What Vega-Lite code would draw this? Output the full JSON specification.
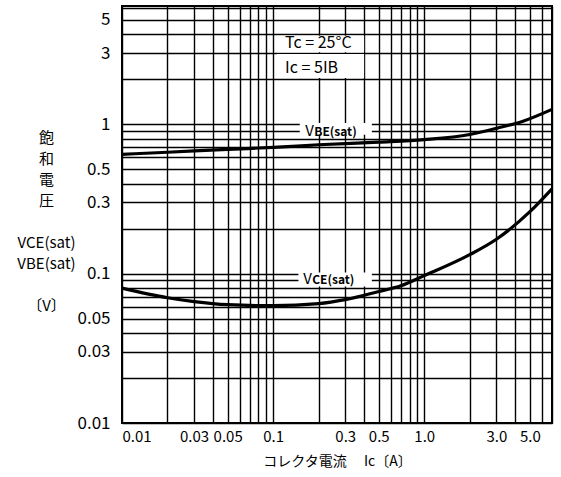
{
  "$schema": "https://vega.github.io/schema/vega-lite/v6.json",
  "width": 430,
  "height": 417,
  "autosize": {"type": "none"},
  "padding": {"left": 122, "top": 6, "right": 9, "bottom": 54},
  "background": "white",
  "config": {
    "view": {"stroke": "black", "strokeWidth": 2},
    "font": "Noto Sans CJK JP"
  },
  "datasets": {
    "curves": [
      {"series": "VBE", "x": 0.01, "y": 0.63},
      {"series": "VBE", "x": 0.02, "y": 0.65},
      {"series": "VBE", "x": 0.05, "y": 0.68},
      {"series": "VBE", "x": 0.1, "y": 0.70},
      {"series": "VBE", "x": 0.2, "y": 0.73},
      {"series": "VBE", "x": 0.5, "y": 0.76},
      {"series": "VBE", "x": 1.0, "y": 0.79},
      {"series": "VBE", "x": 2.0, "y": 0.855},
      {"series": "VBE", "x": 3.0, "y": 0.94},
      {"series": "VBE", "x": 4.5, "y": 1.05},
      {"series": "VBE", "x": 7.0, "y": 1.26},
      {"series": "VCE", "x": 0.01, "y": 0.080},
      {"series": "VCE", "x": 0.02, "y": 0.069},
      {"series": "VCE", "x": 0.03, "y": 0.065},
      {"series": "VCE", "x": 0.05, "y": 0.062},
      {"series": "VCE", "x": 0.1, "y": 0.061},
      {"series": "VCE", "x": 0.2, "y": 0.063},
      {"series": "VCE", "x": 0.3, "y": 0.067},
      {"series": "VCE", "x": 0.5, "y": 0.076},
      {"series": "VCE", "x": 0.7, "y": 0.083},
      {"series": "VCE", "x": 1.0, "y": 0.097},
      {"series": "VCE", "x": 2.0, "y": 0.134},
      {"series": "VCE", "x": 3.0, "y": 0.17},
      {"series": "VCE", "x": 5.0, "y": 0.26},
      {"series": "VCE", "x": 7.0, "y": 0.37}
    ],
    "boxes": [
      {"x": 0.106, "x2": 0.40, "y": 2.04, "y2": 2.96},
      {"x": 0.106, "x2": 0.40, "y": 3.04, "y2": 3.92},
      {"x": 0.15, "x2": 0.45, "y": 0.85, "y2": 1.02},
      {"x": 0.147, "x2": 0.45, "y": 0.082, "y2": 0.102}
    ],
    "notes": [
      {"x": 0.12, "y": 3.5, "text": "Tc = 25°C"},
      {"x": 0.12, "y": 2.4, "text": "Ic = 5IB"}
    ],
    "curvelabels": [
      {"x": 0.163, "y": 0.90, "main": "V", "sub": "BE(sat)"},
      {"x": 0.158, "y": 0.092, "main": "V", "sub": "CE(sat)"}
    ]
  },
  "encoding": {
    "x": {
      "field": "x",
      "type": "quantitative",
      "scale": {"type": "log", "domain": [0.01, 7], "nice": false},
      "axis": {
        "title": "コレクタ電流　 Ic〔A〕",
        "values": [0.01, 0.02, 0.03, 0.04, 0.05, 0.06, 0.07, 0.08, 0.09, 0.1, 0.2, 0.3, 0.4, 0.5, 0.6, 0.7, 0.8, 0.9, 1, 2, 3, 4, 5, 6, 7],
        "labelExpr": "indexof([0.01, 0.03, 0.05, 0.1, 0.3, 0.5, 1, 3, 5], datum.value) >= 0 ? (datum.value >= 1 ? format(datum.value, '.1f') : format(datum.value, '~g')) : ''",
        "labelOverlap": false,
        "ticks": false,
        "domain": false,
        "grid": true,
        "gridColor": "black",
        "gridOpacity": 1,
        "gridWidth": 1.4,
        "labelColor": "black",
        "labelFontSize": 15,
        "labelPadding": 6,
        "titleColor": "black",
        "titleFontSize": 14,
        "titleFontWeight": "normal",
        "titlePadding": 10
      }
    },
    "y": {
      "field": "y",
      "type": "quantitative",
      "scale": {"type": "log", "domain": [0.01, 6.2], "nice": false},
      "axis": {
        "title": ["飽", "和", "電", "圧", "\u2800", "VCE(sat)", "VBE(sat)", "\u2800", "〔V〕"],
        "titleAngle": 0,
        "titleAlign": "center",
        "titleBaseline": "top",
        "titleX": -76,
        "titleY": 124,
        "titleLineHeight": 21,
        "titleColor": "black",
        "titleFontSize": 15,
        "titleFontWeight": "normal",
        "values": [0.01, 0.02, 0.03, 0.04, 0.05, 0.06, 0.07, 0.08, 0.09, 0.1, 0.2, 0.3, 0.4, 0.5, 0.6, 0.7, 0.8, 0.9, 1, 2, 3, 4, 5, 6],
        "labelExpr": "indexof([0.01, 0.03, 0.05, 0.1, 0.3, 0.5, 1, 3, 5], datum.value) >= 0 ? format(datum.value, '~g') : ''",
        "labelOverlap": false,
        "ticks": false,
        "domain": false,
        "grid": true,
        "gridColor": "black",
        "gridOpacity": 1,
        "gridWidth": 1.4,
        "labelColor": "black",
        "labelFontSize": 17,
        "labelPadding": 12
      }
    }
  },
  "layer": [
    {
      "data": {"name": "boxes"},
      "mark": {"type": "rect", "fill": "white"},
      "encoding": {"x2": {"field": "x2"}, "y2": {"field": "y2"}}
    },
    {
      "data": {"name": "curves"},
      "mark": {"type": "line", "color": "black", "strokeWidth": 3.2, "interpolate": "monotone"},
      "encoding": {"detail": {"field": "series"}}
    },
    {
      "data": {"name": "notes"},
      "mark": {"type": "text", "align": "left", "baseline": "middle", "fontSize": 16, "color": "black"},
      "encoding": {"text": {"field": "text"}}
    },
    {
      "data": {"name": "curvelabels"},
      "mark": {"type": "text", "align": "left", "baseline": "middle", "fontSize": 15, "color": "black"},
      "encoding": {"text": {"field": "main"}}
    },
    {
      "data": {"name": "curvelabels"},
      "mark": {"type": "text", "align": "left", "baseline": "middle", "fontSize": 12, "fontWeight": "bold", "dx": 9, "dy": 1, "color": "black"},
      "encoding": {"text": {"field": "sub"}}
    }
  ]
}
